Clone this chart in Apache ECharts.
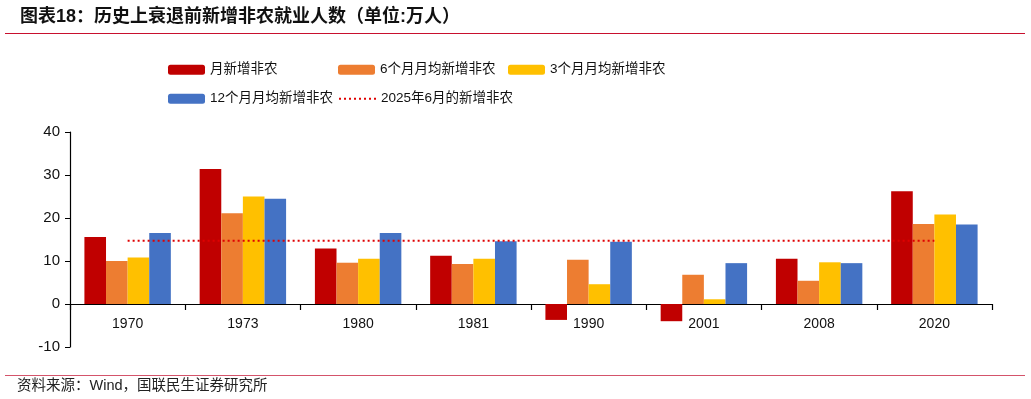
<!DOCTYPE html>
<html><head><meta charset="utf-8">
<script src="https://cdn.jsdelivr.net/npm/echarts@6/dist/echarts.min.js"></script>
<style>html,body{margin:0;padding:0;background:#fff}#c{width:1031px;height:399px}</style>
</head><body><div id="c"></div>
<script>
const categories = ['1970','1973','1980','1981','1990','2001','2008','2020'];
const monthly = [15.6, 31.4, 12.9, 11.2, -3.7, -4.0, 10.5, 26.2];
const avg6 = [10.0, 21.1, 9.6, 9.3, 10.3, 6.8, 5.4, 18.6];
const avg3 = [10.8, 25.0, 10.5, 10.5, 4.6, 1.1, 9.7, 20.8];
const avg12 = [16.5, 24.5, 16.5, 14.6, 14.5, 9.5, 9.5, 18.5];
const june2025 = 14.7;
const seriesNames = ['月新增非农','6个月月均新增非农','3个月月均新增非农','12个月月均新增非农','2025年6月的新增非农'];
const titleText = '图表18：历史上衰退前新增非农就业人数（单位:万人）';
const sourceText = '资料来源：Wind，国联民生证券研究所';

const cjk = '"Liberation Sans", "Noto Sans CJK SC", sans-serif';
const chart = echarts.init(document.getElementById('c'), null, {renderer:'canvas'});
const bar = (name, data, color) => ({
  name, type:'bar', data, barGap:'0%', barCategoryGap:'25%',
  itemStyle:{color}
});
const legendPos = [[168,63],[338,63],[508,63],[168,92],[338,92]];
const legends = seriesNames.map((n,i)=>({
  left:legendPos[i][0], top:legendPos[i][1], padding:0, itemWidth:37, itemHeight:10, itemGap:0,
  textStyle:{fontSize:13.5, color:'#111', fontFamily:cjk, padding:[0,0,0,0]},
  data:[i===4 ? {name:n, itemStyle:{opacity:0}} : n]
}));
chart.setOption({
  animation:false,
  title:{text:titleText, left:15, top:3, textStyle:{fontSize:18, fontWeight:'bold', color:'#111', fontFamily:cjk}},
  graphic:[
    {type:'line', shape:{x1:5,y1:33.5,x2:1025,y2:33.5}, style:{stroke:'#c8102e', lineWidth:1.2}},
    {type:'line', shape:{x1:5,y1:375.5,x2:1025,y2:375.5}, style:{stroke:'#d4546b', lineWidth:1.2}},
    {type:'text', left:17, top:379, style:{text:sourceText, fontSize:14.5, fill:'#222', fontFamily:cjk}}
  ],
  legend:legends,
  grid:{left:70, right:39, top:132, bottom:52, containLabel:false},
  xAxis:{
    type:'category', data:categories, offset:-43,
    axisLine:{onZero:false, lineStyle:{color:'#000', width:1.2}},
    axisTick:{show:true, interval:0, length:6, lineStyle:{color:'#000', width:1.2}},
    axisLabel:{fontSize:14, color:'#111', margin:13, fontFamily:cjk}
  },
  yAxis:{
    type:'value', min:-10, max:40, interval:10,
    splitLine:{show:false},
    axisLine:{show:true, lineStyle:{color:'#000', width:1.2}},
    axisTick:{show:true, length:5, lineStyle:{color:'#000'}},
    axisLabel:{fontSize:15, color:'#111', margin:10, fontFamily:cjk}
  },
  series:[
    bar(seriesNames[0], monthly, '#C00000'),
    bar(seriesNames[1], avg6, '#ED7D31'),
    bar(seriesNames[2], avg3, '#FFC000'),
    bar(seriesNames[3], avg12, '#4472C4'),
    {name:seriesNames[4], type:'line', data:categories.map(()=>june2025), symbol:'none', showSymbol:false,
     lineStyle:{color:'#E00000', width:2, type:[2,3]}, itemStyle:{color:'#E00000'}, z:5}
  ]
});
</script></body></html>
